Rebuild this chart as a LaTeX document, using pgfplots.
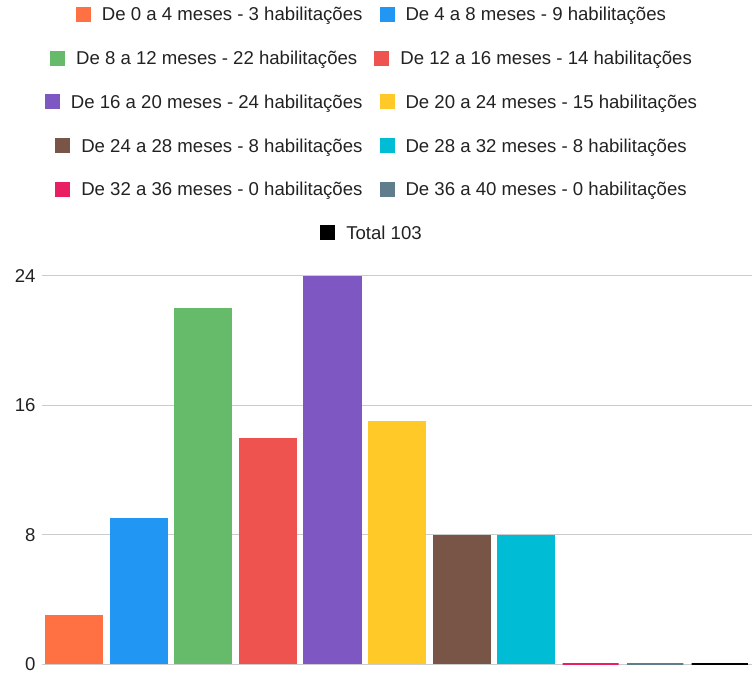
\documentclass[border=0pt]{standalone}
\usepackage{pgfplots}
\pgfplotsset{compat=1.18}
\usepackage{fontspec}
\setmainfont{Liberation Sans}

\definecolor{c1}{HTML}{FF7043}
\definecolor{c2}{HTML}{2196F3}
\definecolor{c3}{HTML}{66BB6A}
\definecolor{c4}{HTML}{EF5350}
\definecolor{c5}{HTML}{7E57C2}
\definecolor{c6}{HTML}{FFCA28}
\definecolor{c7}{HTML}{795548}
\definecolor{c8}{HTML}{00BCD4}
\definecolor{c9}{HTML}{E91E63}
\definecolor{c10}{HTML}{607D8B}
\definecolor{c11}{HTML}{000000}
\definecolor{gridgray}{HTML}{CCCCCC}
\definecolor{txt}{HTML}{222222}

\newcommand{\legfont}{\fontsize{18.6bp}{22bp}\selectfont}
\newcommand{\legsq}[1]{{\color{#1}\raisebox{-1bp}{\rule{15bp}{15bp}}}\hspace{11bp}}
\newcommand{\entgap}{\hspace{17bp}}

\begin{document}
\begin{tikzpicture}
\path[use as bounding box] (0,0) rectangle (752bp,677bp);

% legend rows, each centred
\begin{scope}[every node/.style={anchor=base, inner sep=0pt, text=txt, font=\legfont}]
\node at (371bp,656bp)   {\legsq{c1}De 0 a 4 meses - 3 habilitações\entgap\legsq{c2}De 4 a 8 meses - 9 habilitações};
\node at (371bp,612.3bp) {\legsq{c3}De 8 a 12 meses - 22 habilitações\entgap\legsq{c4}De 12 a 16 meses - 14 habilitações};
\node at (371bp,568.6bp) {\legsq{c5}De 16 a 20 meses - 24 habilitações\entgap\legsq{c6}De 20 a 24 meses - 15 habilitações};
\node at (371bp,524.9bp) {\legsq{c7}De 24 a 28 meses - 8 habilitações\entgap\legsq{c8}De 28 a 32 meses - 8 habilitações};
\node at (371bp,481.2bp) {\legsq{c9}De 32 a 36 meses - 0 habilitações\entgap\legsq{c10}De 36 a 40 meses - 0 habilitações};
\node at (371bp,437.5bp) {\legsq{c11}Total 103};
\end{scope}

\begin{axis}[
  at={(42bp,13bp)}, anchor=south west,
  scale only axis, width=710bp, height=388bp,
  xmin=-0.5, xmax=10.5, ymin=0, ymax=24,
  clip=false,
  axis line style={draw=none},
  major tick length=0pt,
  xtick=\empty,
  ytick={0,8,16,24},
  ymajorgrids,
  grid style={gridgray, line width=1bp},
  /pgf/number format/assume math mode=true,
  yticklabel style={font=\fontsize{18.6bp}{20bp}\selectfont, text=txt, xshift=-3bp},
  ybar, bar width=0.9, bar shift=0pt,
  every axis plot/.append style={draw=none},
]
\addplot[fill=c1] coordinates {(0,3)};
\addplot[fill=c2] coordinates {(1,9)};
\addplot[fill=c3] coordinates {(2,22)};
\addplot[fill=c4] coordinates {(3,14)};
\addplot[fill=c5] coordinates {(4,24)};
\addplot[fill=c6] coordinates {(5,15)};
\addplot[fill=c7] coordinates {(6,8)};
\addplot[fill=c8] coordinates {(7,8)};
\addplot[draw=c9, line width=2bp, bar width=0.87] coordinates {(8,0)};
\addplot[draw=c10, line width=2bp, bar width=0.87] coordinates {(9,0)};
\addplot[draw=c11, line width=2bp, bar width=0.87] coordinates {(10,0)};
\end{axis}
\end{tikzpicture}
\end{document}
